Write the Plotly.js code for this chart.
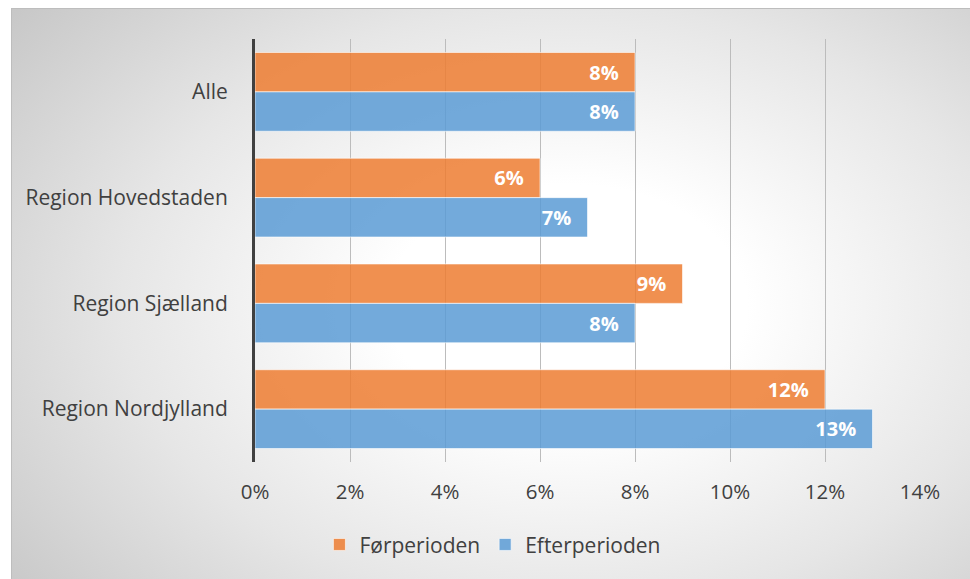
<!DOCTYPE html>
<html>
<head>
<meta charset="utf-8">
<script src="https://cdn.plot.ly/plotly-3.0.1.min.js"></script>
<style>
  html, body { margin: 0; padding: 0; background: #ffffff; }
  #frame {
    position: absolute; left: 11px; top: 8px; width: 958px; height: 570px;
    border: 1px solid #bdbdbd;
    background: radial-gradient(ellipse 75% 85% at 58% 52%, #ffffff 0%, #ffffff 25%, #e6e6e6 62%, #c6c6c6 100%);
  }
  #chart { position: absolute; left: 0; top: 0; width: 958px; height: 570px; }
</style>
</head>
<body>
<div id="frame"><div id="chart"></div></div>
<script>
const categories = ["Alle", "Region Hovedstaden", "Region Sjælland", "Region Nordjylland"];
const forperioden = [8, 6, 9, 12];
const efterperioden = [8, 7, 8, 13];
const seriesNames = ["Førperioden", "Efterperioden"];
const tickValues = [0, 2, 4, 6, 8, 10, 12, 14];
const tickLabels = ["0%", "2%", "4%", "6%", "8%", "10%", "12%", "14%"];

const FONT = "'Open Sans', sans-serif";

const common = {
  type: "bar",
  orientation: "h",
  y: categories,
  textposition: "inside",
  insidetextanchor: "end",
  texttemplate: "%{text}\u2002\u2009",
  textfont: { family: FONT, size: 20, color: "#ffffff", weight: 700 },
  hoverinfo: "skip",
  cliponaxis: false
};

const traces = [
  Object.assign({}, common, {
    name: seriesNames[0],
    x: forperioden,
    text: forperioden.map(v => v + "%"),
    marker: { color: "rgba(237,125,49,0.85)", line: { color: "rgba(255,255,255,0.6)", width: 1 } }
  }),
  Object.assign({}, common, {
    name: seriesNames[1],
    x: efterperioden,
    text: efterperioden.map(v => v + "%"),
    marker: { color: "rgba(91,155,213,0.85)", line: { color: "rgba(255,255,255,0.6)", width: 1 } }
  })
];

const layout = {
  width: 958, height: 570,
  margin: { l: 243, r: 50, t: 30, b: 117 },
  paper_bgcolor: "rgba(0,0,0,0)",
  plot_bgcolor: "rgba(0,0,0,0)",
  barmode: "group",
  bargap: 0.255,
  bargroupgap: 0,
  font: { family: FONT, color: "#404040", size: 21 },
  xaxis: {
    range: [0, 14],
    tickvals: tickValues,
    ticktext: tickLabels,
    showgrid: true,
    gridcolor: "#bcbcbc",
    gridwidth: 1,
    zeroline: false,
    showline: false,
    ticks: "outside",
    ticklen: 11,
    tickcolor: "rgba(0,0,0,0)",
    tickfont: { family: FONT, size: 20.5, color: "#404040" },
    fixedrange: true
  },
  yaxis: {
    autorange: "reversed",
    showline: true,
    linecolor: "#404040",
    linewidth: 3,
    showgrid: false,
    zeroline: false,
    ticks: "outside",
    ticklen: 20,
    tickcolor: "rgba(0,0,0,0)",
    tickfont: { family: FONT, size: 21, color: "#404040" },
    fixedrange: true
  },
  showlegend: true,
  legend: {
    orientation: "h",
    xref: "container", yref: "container",
    x: 0.502, xanchor: "center",
    y: 0.06, yanchor: "middle",
    font: { family: FONT, size: 21, color: "#404040" },
    bgcolor: "rgba(0,0,0,0)",
    itemwidth: 30,
    traceorder: "normal"
  }
};

Plotly.newPlot("chart", traces, layout, { displayModeBar: false, staticPlot: true });
</script>
</body>
</html>
